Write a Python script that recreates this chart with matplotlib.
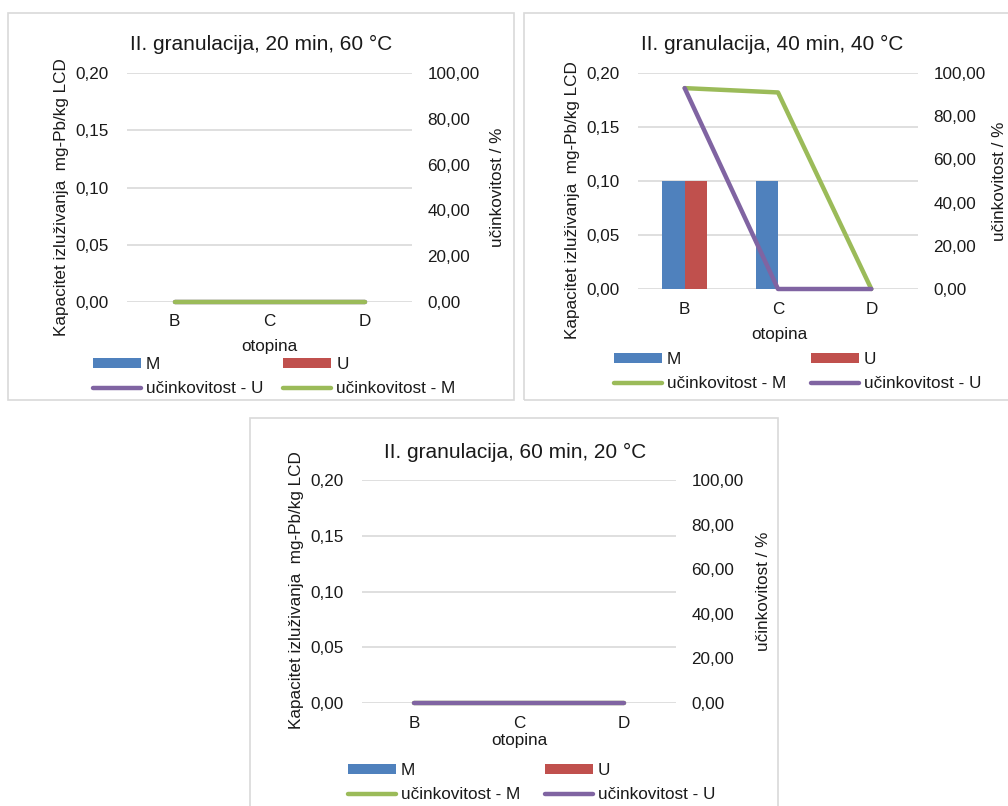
import matplotlib
matplotlib.use('Agg')
import matplotlib.pyplot as plt
from matplotlib.patches import Rectangle
from matplotlib.ticker import FuncFormatter, FixedLocator

plt.rcParams['font.family'] = ['Liberation Sans', 'DejaVu Sans']

W, H = 1008, 806

# ---------------- data ----------------
categories = ['B', 'C', 'D']
titles = ['II. granulacija, 20 min, 60 °C',
          'II. granulacija, 40 min, 40 °C',
          'II. granulacija, 60 min, 20 °C']

p1_M = [0.0, 0.0, 0.0]
p1_U = [0.0, 0.0, 0.0]
p1_eff_M = [0.0, 0.0, 0.0]
p1_eff_U = [0.0, 0.0, 0.0]

p2_M = [0.10, 0.10, 0.0]
p2_U = [0.10, 0.0, 0.0]
p2_eff_M = [93.0, 91.0, 0.0]
p2_eff_U = [93.0, 0.0, 0.0]

p3_M = [0.0, 0.0, 0.0]
p3_U = [0.0, 0.0, 0.0]
p3_eff_M = [0.0, 0.0, 0.0]
p3_eff_U = [0.0, 0.0, 0.0]

left_ticks = [0.0, 0.05, 0.10, 0.15, 0.20]
right_ticks = [0, 20, 40, 60, 80, 100]

ylabel_left = 'Kapacitet izluživanja  mg-Pb/kg LCD'
ylabel_right = 'učinkovitost / %'
xlabel = 'otopina'
lab_M, lab_U = 'M', 'U'
lab_effM, lab_effU = 'učinkovitost - M', 'učinkovitost - U'

# ---------------- style ----------------
C_M = '#4F81BD'
C_U = '#C0504D'
C_EM = '#9BBB59'
C_EU = '#8064A2'
C_GRID = '#D9D9D9'
C_TXT = '#1a1a1a'
FS = 12.3
FS_T = 15

fig = plt.figure(figsize=(W / 100, H / 100), dpi=100)
fig.patch.set_facecolor('white')


def fx(x):
    return x / W


def fy(y):
    return 1 - y / H


panels = [
    dict(M=p1_M, U=p1_U, effM=p1_eff_M, effU=p1_eff_U, title=titles[0],
         border=(8, 13, 514, 400), ax=(127, 73, 412, 302), tpos=(261, 44),
         xlab=(269, 347), yl=(62, 197), yr=(497, 187.5), leg=(93, 357),
         colsp=1.17, top_last='M'),
    dict(M=p2_M, U=p2_U, effM=p2_eff_M, effU=p2_eff_U, title=titles[1],
         border=(524, 13, 1040, 400), ax=(638, 73, 918, 289), tpos=(772, 44),
         xlab=(779, 334), yl=(573, 200), yr=(999, 181), leg=(614, 352),
         colsp=1.46, top_last='U'),
    dict(M=p3_M, U=p3_U, effM=p3_eff_M, effU=p3_eff_U, title=titles[2],
         border=(250, 418, 778, 830), ax=(362, 480, 676, 703), tpos=(515, 452),
         xlab=(519, 740), yl=(297, 590), yr=(763, 591.5), leg=(348, 763),
         colsp=1.46, top_last='U'),
]

fmt_l = FuncFormatter(lambda v, p: f'{v:.2f}'.replace('.', ','))
fmt_r = FuncFormatter(lambda v, p: f'{v:.2f}'.replace('.', ','))

x = list(range(len(categories)))
bw = 0.241

for P in panels:
    bx0, by0, bx1, by1 = P['border']
    fig.patches.append(Rectangle((fx(bx0), fy(by1)), fx(bx1) - fx(bx0), fy(by0) - fy(by1),
                                 transform=fig.transFigure, fill=False,
                                 edgecolor=C_GRID, lw=1.2, zorder=0))
    ax0, ay0, ax1, ay1 = P['ax']
    ax = fig.add_axes([fx(ax0), fy(ay1), fx(ax1) - fx(ax0), fy(ay0) - fy(ay1)])
    ax.set_facecolor('none')
    ax.set_xlim(-0.5, len(categories) - 0.5)
    ax.set_ylim(left_ticks[0], left_ticks[-1])
    ax.yaxis.set_major_locator(FixedLocator(left_ticks))
    ax.yaxis.set_major_formatter(fmt_l)
    ax.set_xticks(x)
    ax.set_xticklabels(categories)
    for s in ax.spines.values():
        s.set_visible(False)
    ax.grid(axis='y', color=C_GRID, lw=1.2, zorder=0)
    ax.set_axisbelow(True)
    ax.tick_params(axis='y', length=0, pad=13, labelsize=FS, colors=C_TXT)
    ax.tick_params(axis='x', length=0, pad=9, labelsize=FS, colors=C_TXT)

    hM = ax.bar([i - bw / 2 for i in x], P['M'], width=bw, color=C_M, zorder=2)
    hU = ax.bar([i + bw / 2 for i in x], P['U'], width=bw, color=C_U, zorder=2)

    ax2 = ax.twinx()
    ax2.set_ylim(right_ticks[0], right_ticks[-1])
    ax2.yaxis.set_major_locator(FixedLocator(right_ticks))
    ax2.yaxis.set_major_formatter(fmt_r)
    for s in ax2.spines.values():
        s.set_visible(False)
    ax2.tick_params(axis='y', length=0, pad=11, labelsize=FS, colors=C_TXT)

    lkw = dict(lw=3.2, solid_capstyle='round', solid_joinstyle='round', clip_on=False)
    if P['top_last'] == 'M':
        lU, = ax2.plot(x, P['effU'], color=C_EU, **lkw)
        lM, = ax2.plot(x, P['effM'], color=C_EM, **lkw)
        row2 = [(lU, lab_effU), (lM, lab_effM)]
    else:
        lM, = ax2.plot(x, P['effM'], color=C_EM, **lkw)
        lU, = ax2.plot(x, P['effU'], color=C_EU, **lkw)
        row2 = [(lM, lab_effM), (lU, lab_effU)]

    # titles and axis labels
    fig.text(fx(P['tpos'][0]), fy(P['tpos'][1]), P['title'], ha='center', va='center',
             fontsize=FS_T, color=C_TXT)
    fig.text(fx(P['xlab'][0]), fy(P['xlab'][1]), xlabel, ha='center', va='center',
             fontsize=FS, color=C_TXT)
    fig.text(fx(P['yl'][0]), fy(P['yl'][1]), ylabel_left, ha='center', va='center',
             rotation=90, fontsize=FS, color=C_TXT)
    fig.text(fx(P['yr'][0]), fy(P['yr'][1]), ylabel_right, ha='center', va='center',
             rotation=90, fontsize=FS, color=C_TXT)

    # legend: row-major [M, U / row2], matplotlib fills column-major
    handles = [hM, row2[0][0], hU, row2[1][0]]
    labels = [lab_M, row2[0][1], lab_U, row2[1][1]]
    ax2.legend(handles, labels, loc='upper left',
               bbox_to_anchor=(fx(P['leg'][0]), fy(P['leg'][1])),
               bbox_transform=fig.transFigure, ncol=2, frameon=False,
               fontsize=FS, handlelength=2.8, handleheight=0.55,
               handletextpad=0.3, columnspacing=P['colsp'],
               borderpad=0, borderaxespad=0, labelspacing=0.55,
               labelcolor=C_TXT)

fig.savefig('out.png', dpi=100, facecolor='white')
